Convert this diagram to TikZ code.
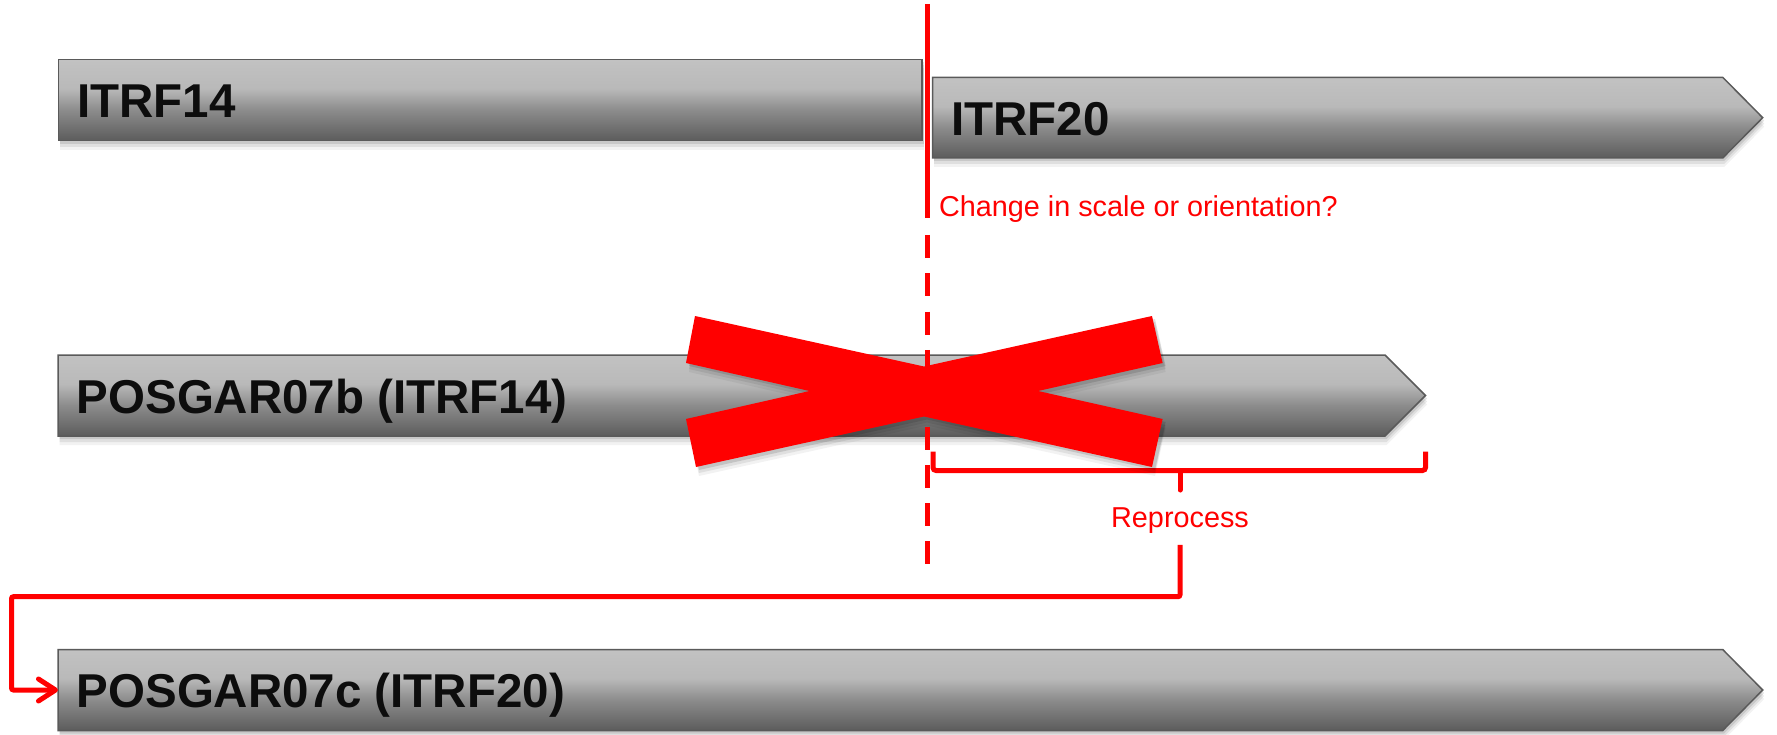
\documentclass[tikz,border=0pt]{standalone}
\usepackage{fontspec}
\setmainfont{Liberation Sans}
\usetikzlibrary{arrows.meta}
\definecolor{boxline}{RGB}{90,90,90}
\definecolor{xred}{RGB}{255,0,0}
\definecolor{gtop}{RGB}{194,194,194}
\definecolor{gupper}{RGB}{185,185,185}
\definecolor{gmid}{RGB}{140,140,140}
\definecolor{gbot}{RGB}{92,92,92}
\pgfdeclareverticalshading{barshade}{100bp}{color(0bp)=(gbot); color(25bp)=(gbot); color(44bp)=(gmid); color(57bp)=(gupper); color(75bp)=(gtop); color(100bp)=(gtop)}
\tikzset{
  barbox/.style={draw=boxline, line width=1.5pt, shading=barshade},
  lbl/.style={anchor=west, font=\fontsize{47.5}{57}\selectfont\bfseries, text=black!95, inner xsep=18.5pt, inner ysep=0pt, text height=35pt, text depth=0pt},
  redtxt/.style={font=\fontsize{28.8}{34}\selectfont, text=xred},
  redline/.style={draw=xred, line width=5.5pt},
  braceline/.style={draw=xred, line width=5pt},
  conn/.style={draw=xred, line width=5pt, rounded corners=2pt, -{Straight Barb[length=17pt,width=22pt,round]}},
}
\newcommand\drawbar[1]{%
  \foreach \d/\o in {3/0.10,6/0.08,9/0.05}{\fill[black,opacity=\o,shift={(1.5,\d)}] #1;}%
  \path[barbox] #1;%
}
\begin{document}
\begin{tikzpicture}[x=1pt,y=-1pt]
\useasboundingbox (0,0) rectangle (1777,735);
% bars
\drawbar{(58.5,59.5) rectangle (922,140.7)}
\drawbar{(932.6,77.3) -- (1722.7,77.3) -- (1762.7,117.7) -- (1722.7,158) -- (932.6,158) -- cycle}
\drawbar{(58,355) -- (1385,355) -- (1425.5,395.5) -- (1385,436) -- (58,436) -- cycle}
\drawbar{(58,649.5) -- (1722.7,649.5) -- (1762.7,690) -- (1722.7,730.5) -- (58,730.5) -- cycle}
% labels
\node[lbl] (itrf14) at (58.5,100.1) {ITRF14};
\node[lbl] (itrf20) at (932.6,117.7) {ITRF20};
\node[lbl] (p7b) at (58,395.5) {POSGAR07b (ITRF14)};
\node[lbl] (c7) at (58,690) {POSGAR07c (ITRF20)};
% epoch line
\draw[redline] (927.5,4) -- (927.5,218.5);
\draw[redline, dash pattern=on 23pt off 15.3pt] (927.5,235) -- (927.5,566);
\node[redtxt, anchor=base west] (chg) at (935.5,216.7) {Change in scale or orientation?};
% brace
\draw[braceline, rounded corners=3pt] (933,451.7) -- (933,470.5) -- (1425.5,470.5) -- (1425.5,451.7);
\draw[braceline, line cap=round] (1180,470.5) -- (1180,490);
\node[redtxt, anchor=base, inner ysep=11pt, text depth=6pt] (reproc) at (1180,527.7) {Reprocess};
% cross
\foreach \d/\o in {3/0.12,6/0.08,9/0.05}{
\fill[black,opacity=\o,shift={(3,\d)}] (695,316) -- (924,366.5) -- (1152,316) -- (1162.6,363) -- (1038,391) -- (1162.6,419) -- (1152,467) -- (924,416.5) -- (696,467) -- (686,419) -- (809.5,391) -- (686,363) -- cycle;}
\fill[xred] (695,316) -- (924,366.5) -- (1152,316) -- (1162.6,363) -- (1038,391) -- (1162.6,419) -- (1152,467) -- (924,416.5) -- (696,467) -- (686,419) -- (809.5,391) -- (686,363) -- cycle;
% connector
\coordinate (bend) at (11.5,596.7);
\draw[conn] (reproc.south) |- (bend) |- (c7.west);
\end{tikzpicture}
\end{document}
